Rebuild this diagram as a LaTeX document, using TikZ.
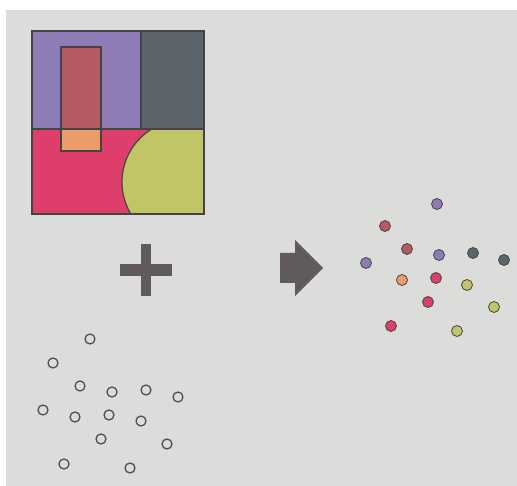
\documentclass[tikz,border=0pt]{standalone}
\begin{document}
\begin{tikzpicture}[x=1pt,y=-1pt,
  edge/.style={draw=ogray,line width=1.2pt},
  cdot/.style={circle,inner sep=0pt,minimum size=11pt,draw=ogray,line width=0.8pt},
  hdot/.style={circle,inner sep=0pt,minimum size=10pt,draw=hgray,line width=1.3pt},
  glyph/.style={fill=sgray}]
\definecolor{bg}{RGB}{220,220,219}
\definecolor{ogray}{RGB}{68,68,70}
\definecolor{hgray}{RGB}{80,80,80}
\definecolor{sgray}{RGB}{96,91,90}
\definecolor{cpurple}{RGB}{143,123,182}
\definecolor{cdark}{RGB}{93,101,108}
\definecolor{cbrown}{RGB}{179,90,99}
\definecolor{cred}{RGB}{221,62,106}
\definecolor{corange}{RGB}{236,155,107}
\definecolor{cyg}{RGB}{193,197,101}
\useasboundingbox (0,0) rectangle (517,486);
\fill[white] (0,0) rectangle (517,486);
\fill[bg] (6,10) rectangle (517,486);
% region map
\fill[cpurple] (32,31) rectangle (141,129);
\fill[cdark] (141,31) rectangle (204,129);
\fill[cred] (32,129) rectangle (204,214);
\begin{scope}
\clip (32,129) rectangle (204,214);
\fill[cyg] (184,182) circle (62);
\draw[edge] (184,182) circle (62);
\end{scope}
\fill[cbrown] (61,47) rectangle (101,129);
\fill[corange] (61,129) rectangle (101,151);
\draw[edge] (61,47) rectangle (101,151);
\draw[edge] (32,129) -- (204,129);
\draw[edge] (141,31) -- (141,129);
\draw[edge] (32,31) rectangle (204,214);
% plus sign
\fill[glyph] (120,264) rectangle (172,276);
\fill[glyph] (141,244) rectangle (151,296);
% arrow
\fill[glyph] (280,253) -- (295,253) -- (295,240) -- (323,268) -- (295,296) -- (295,283) -- (280,283) -- cycle;
% input points
\node[hdot] (h1) at (90,339) {};
\node[hdot] (h2) at (53,363) {};
\node[hdot] (h3) at (80,386) {};
\node[hdot] (h4) at (112,392) {};
\node[hdot] (h5) at (146,390) {};
\node[hdot] (h6) at (178,397) {};
\node[hdot] (h7) at (43,410) {};
\node[hdot] (h8) at (75,417) {};
\node[hdot] (h9) at (109,415) {};
\node[hdot] (h10) at (141,421) {};
\node[hdot] (h11) at (101,439) {};
\node[hdot] (h12) at (167,444) {};
\node[hdot] (h13) at (64,464) {};
\node[hdot] (h14) at (130,468) {};
% classified points
\node[cdot,fill=cpurple] (c1) at (437,204) {};
\node[cdot,fill=cbrown] (c2) at (385,226) {};
\node[cdot,fill=cbrown] (c3) at (407,249) {};
\node[cdot,fill=cpurple] (c4) at (439,255) {};
\node[cdot,fill=cdark] (c5) at (473,253) {};
\node[cdot,fill=cdark] (c6) at (504,260) {};
\node[cdot,fill=cpurple] (c7) at (366,263) {};
\node[cdot,fill=corange] (c8) at (402,280) {};
\node[cdot,fill=cred] (c9) at (436,278) {};
\node[cdot,fill=cyg] (c10) at (467,285) {};
\node[cdot,fill=cred] (c11) at (428,302) {};
\node[cdot,fill=cyg] (c12) at (494,307) {};
\node[cdot,fill=cred] (c13) at (391,326) {};
\node[cdot,fill=cyg] (c14) at (457,331) {};
\end{tikzpicture}
\end{document}
